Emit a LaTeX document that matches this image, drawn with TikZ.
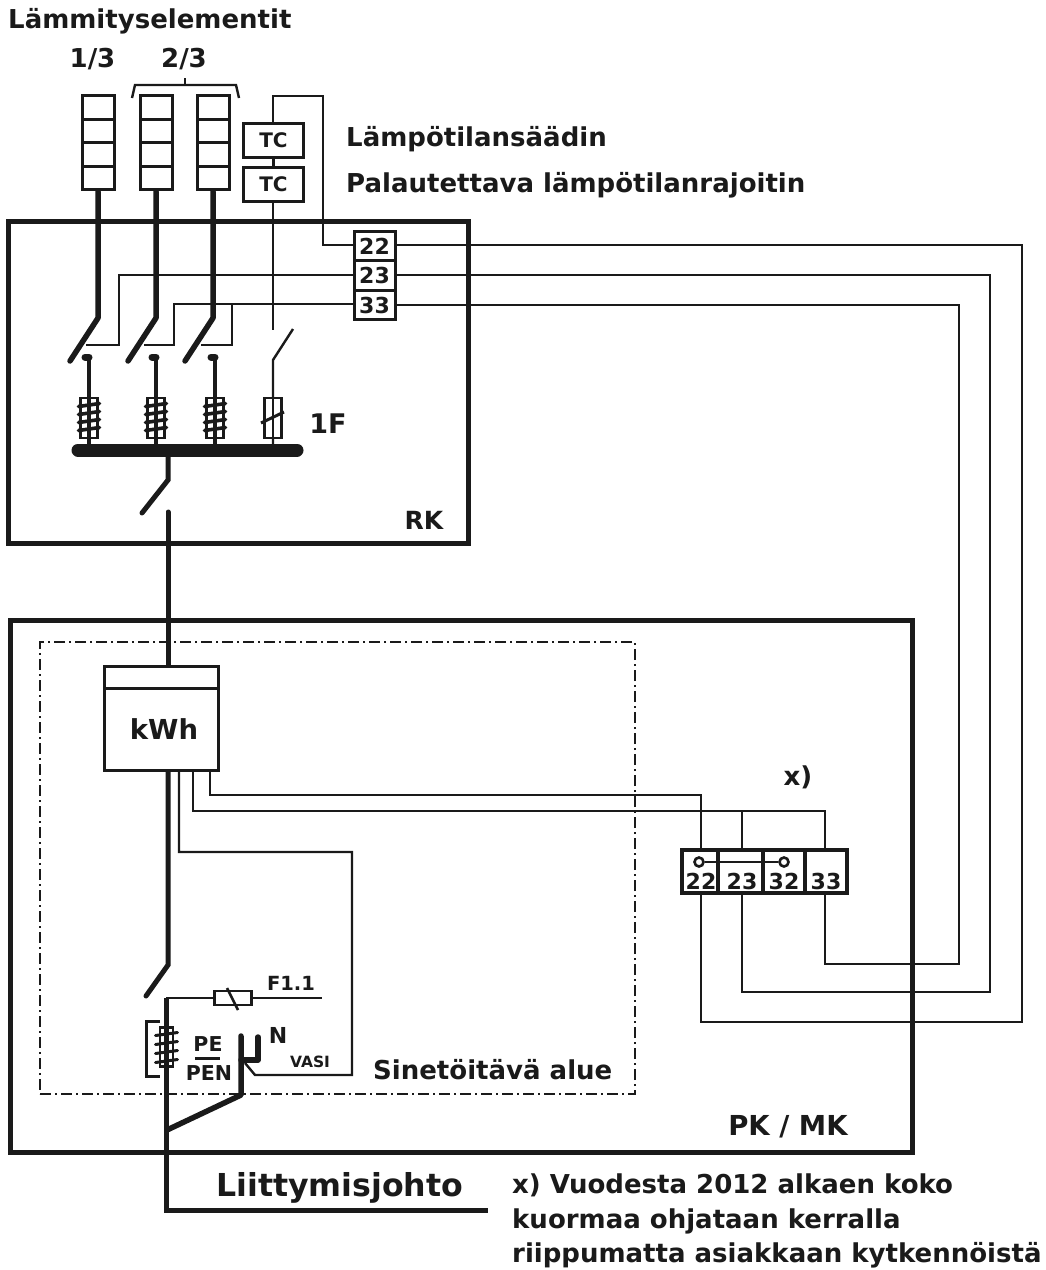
\documentclass[tikz,border=0pt]{standalone}
\usepackage{fontspec}
\setmainfont{DejaVu Sans}
\newfontfamily\lblfont{DejaVu Sans Bold}
\newcommand{\fs}[1]{\fontsize{#1}{#1}\selectfont}
\definecolor{ink}{HTML}{1A1A1A}
\tikzset{
  lbl/.style={inner sep=0pt,text=ink,font=\lblfont\fs{26}},
  lbll/.style={lbl,anchor=base west},
  wire/.style={draw=ink,line width=2.4pt,line join=miter},
  lead/.style={draw=ink,line width=5.5pt,line join=round},
  heavy/.style={draw=ink,line width=5pt,line join=miter},
  frame/.style={draw=ink,line width=5pt},
  cell/.style={draw=ink,line width=3pt,fill=white,inner sep=0pt,text=ink,font=\lblfont\fs{20}},
  elem/.style={cell,minimum width=32pt,minimum height=23.5pt,line width=3pt},
  termr/.style={cell,minimum width=41pt,minimum height=29.5pt,font=\lblfont\fs{22}},
  tc/.style={cell,minimum width=60pt,minimum height=34pt},
  fusebody/.style={draw=ink,line width=2.4pt,fill=white,minimum width=17pt,minimum height=40pt,inner sep=0pt},
  coilline/.style={draw=ink,line width=3.6pt,line cap=round},
  pkcell/.style={draw=ink,line width=3.4pt,inner sep=0pt,text=ink,font=\lblfont\fs{21}},
}
\begin{document}
\begin{tikzpicture}[x=1pt,y=-1pt]
\useasboundingbox (0,0) rectangle (1046,1270);
\fill[white] (0,0) rectangle (1046,1270);

% frames
\node[frame,inner sep=0pt,minimum width=460pt,minimum height=322pt] (rk) at (238,382) {};
\node[frame,inner sep=0pt,minimum width=902pt,minimum height=532pt] (pk) at (461,886) {};
\node[draw=ink,line width=1.4pt,dash pattern=on 11pt off 4pt on 2pt off 4pt,inner sep=0pt,minimum width=595pt,minimum height=452pt] (seal) at (337.5,868) {};

% heating elements
\foreach \n/\x in {a/98.5,b/156,c/213.5}{
  \node[elem] (\n1) at (\x,107.5) {};
  \node[elem] (\n2) at (\x,131) {};
  \node[elem] (\n3) at (\x,154.5) {};
  \node[elem] (\n4) at (\x,178) {};
}
\coordinate (abend) at (98,318);  \coordinate (atip) at (70,361);
\coordinate (bbend) at (156,318); \coordinate (btip) at (128,361);
\coordinate (cbend) at (213,318); \coordinate (ctip) at (185,361);
\draw[lead,line cap=round] (a4.south -| abend) -- (abend) -- (atip);
\draw[lead,line cap=round] (b4.south -| bbend) -- (bbend) -- (btip);
\draw[lead,line cap=round] (c4.south -| cbend) -- (cbend) -- (ctip);

% brace of 2/3
\coordinate (brl) at (132,98); \coordinate (brla) at (135,85);
\coordinate (brr) at (239,98); \coordinate (brra) at (236,85);
\coordinate (brt) at (185,85); \coordinate (brtt) at (185,78);
\draw[wire] (brl) -- (brla) -- (brra) -- (brr);
\draw[wire] (brt) -- (brtt);

% TC boxes
\node[tc] (tc1) at (273.5,140) {TC};
\node[tc] (tc2) at (273.5,184) {TC};
\draw[wire] (tc1) -- (tc2);

% terminals RK
\node[termr] (r22) at (374.5,246) {22};
\node[termr] (r23) at (374.5,275.5) {23};
\node[termr] (r33) at (374.5,305) {33};

% wire TC to 22
\coordinate (tca) at (273,96); \coordinate (tcb) at (323,96); \coordinate (tcc) at (323,245);
\draw[wire] (tc1.north -| tca) -- (tca) -- (tcb) -- (tcc) -- (r22.west |- tcc);
\coordinate (tcsw) at (273,330);
\draw[wire] (tc2.south -| tcsw) -- (tcsw);

% left control wires
\coordinate (w23a) at (119,275); \coordinate (w23b) at (119,345); \coordinate (w23c) at (86,345);
\draw[wire] (r23.west |- w23a) -- (w23a) -- (w23b) -- (w23c);
\coordinate (w33a) at (174,304); \coordinate (w33b) at (174,345); \coordinate (w33c) at (144,345);
\draw[wire] (r33.west |- w33a) -- (w33a) -- (w33b) -- (w33c);
\coordinate (w33d) at (232,304); \coordinate (w33e) at (232,345); \coordinate (w33f) at (201,345);
\draw[wire] (w33d) -- (w33e) -- (w33f);

% bus and main switch
\coordinate (busl) at (78,450); \coordinate (busr) at (297,450);
\draw[draw=ink,line width=13pt,line cap=round] (busl) -- (busr);
\coordinate (msa) at (168,450); \coordinate (msb) at (168,480); \coordinate (msc) at (142,513);
\draw[heavy,line cap=round] (msa) -- (msb) -- (msc);

% fuse stems and coils
\foreach \n/\x in {fa/89,fb/156,fc/215}{
  \coordinate (\n top) at (\x,360);
  \coordinate (\n hook) at (\x-4,357);
  \coordinate (\n bot) at (\x,450);
  \draw[draw=ink,line width=4.6pt,line cap=round] (\n top) -- (\n bot);
  \draw[draw=ink,line width=7pt,line cap=round] (\n hook) -- (\x,357);
  \node[fusebody,fill=none] (\n) at (\x,418) {};
  \foreach \y in {405,413,421,429}{
    \draw[coilline] (\x-10.5,\y+1.5) -- (\x+10.5,\y-1.5);
  }
}
% fourth switch and fuse
\coordinate (sd1) at (293,329); \coordinate (sd2) at (273,360); \coordinate (sd3) at (273,450);
\draw[wire] (sd1) -- (sd2) -- (sd3);
\node[fusebody] (fd) at (273,418) {};
\coordinate (fdl) at (261,423); \coordinate (fdr) at (284,412);
\draw[wire] (fd.south) -- (fd.north);
\draw[wire,line width=3pt] (fdl) -- (fdr);

% right long wires
\node[pkcell,minimum width=36pt,minimum height=43pt] (p22) at (700,871.5) {};
\node[pkcell,minimum width=45pt,minimum height=43pt] (p23) at (740.5,871.5) {};
\node[pkcell,minimum width=42pt,minimum height=43pt] (p32) at (784,871.5) {};
\node[pkcell,minimum width=42pt,minimum height=43pt] (p33) at (826,871.5) {};
\node[lbl,font=\lblfont\fs{22}] (n22) at (701,881) {22};
\node[lbl,font=\lblfont\fs{22}] (n23) at (742,881) {23};
\node[lbl,font=\lblfont\fs{22}] (n32) at (784,881) {32};
\node[lbl,font=\lblfont\fs{22}] (n33) at (826,881) {33};
\node[draw=ink,line width=2.6pt,circle,minimum size=9pt,inner sep=0pt] (ca) at (699,862) {};
\node[draw=ink,line width=2.6pt,circle,minimum size=9pt,inner sep=0pt] (cb) at (784,862) {};
\draw[wire] (ca) -- (cb);

\coordinate (l22a) at (1022,245); \coordinate (l22b) at (1022,1022); \coordinate (l22c) at (701,1022); \coordinate (l22d) at (701,893);
\draw[wire] (r22.east |- l22a) -- (l22a) -- (l22b) -- (l22c) -- (l22d);
\coordinate (l23a) at (990,275); \coordinate (l23b) at (990,992); \coordinate (l23c) at (742,992); \coordinate (l23d) at (742,893);
\draw[wire] (r23.east |- l23a) -- (l23a) -- (l23b) -- (l23c) -- (l23d);
\coordinate (l33a) at (959,305); \coordinate (l33b) at (959,964); \coordinate (l33c) at (825,964); \coordinate (l33d) at (825,893);
\draw[wire] (r33.east |- l33a) -- (l33a) -- (l33b) -- (l33c) -- (l33d);

% meter
\coordinate (mlead) at (168,512);
\node[cell,minimum width=114pt,minimum height=104pt] (kwh) at (161,718) {};
\coordinate (kwhl) at (104,688); \coordinate (kwhr) at (218,688);
\draw[draw=ink,line width=3pt] (kwhl) -- (kwhr);
\node[lbl,font=\lblfont\fs{27.5}] (kwhtxt) at (164,729) {kWh};
\draw[heavy,line cap=round] (mlead) -- (mlead |- kwh.north);

% meter wires
\coordinate (m1a) at (210,795); \coordinate (m1b) at (701,795);
\draw[wire] (m1a |- kwh.south) -- (m1a) -- (m1b) -- (m1b |- p22.north);
\coordinate (m2a) at (193,811); \coordinate (m2b) at (825,811); \coordinate (m2c) at (742,811);
\draw[wire] (m2a |- kwh.south) -- (m2a) -- (m2b) -- (m2b |- p33.north);
\draw[wire] (m2c) -- (m2c |- p23.north);
\coordinate (m3a) at (179,852); \coordinate (m3b) at (352,852); \coordinate (m3c) at (352,1075); \coordinate (m3d) at (255,1075); \coordinate (m3e) at (245,1063);
\draw[wire] (m3a |- kwh.south) -- (m3a) -- (m3b) -- (m3c) -- (m3d) -- (m3e);

% lower switch
\coordinate (lsa) at (168,965); \coordinate (lsb) at (146,996);
\draw[heavy,line cap=round] (lsa |- kwh.south) -- (lsa) -- (lsb);

% incoming line
\coordinate (ina) at (166,998); \coordinate (inb) at (166,1210); \coordinate (inc) at (488,1210);
\draw[heavy] (ina) -- (inb) -- (inc);

% F1.1
\coordinate (fe) at (322,998);
\draw[draw=ink,line width=2.8pt] (ina) -- (fe);
\node[draw=ink,line width=2.6pt,fill=white,inner sep=0pt,minimum width=37pt,minimum height=14pt] (f11) at (233,998) {};
\coordinate (f11a) at (227,988); \coordinate (f11b) at (238,1010);
\draw[draw=ink,line width=2.6pt] (f11a) -- (f11b);

% PE coil
\node[fusebody,minimum width=13pt,minimum height=39pt,fill=none] (pcoil) at (166.5,1047) {};
\foreach \y in {1034,1043,1052,1061}{
  \draw[coilline,line width=3pt] (155.5,\y+1.5) -- (177.5,\y-1.5);
}
\coordinate (bka) at (160,1021); \coordinate (bkb) at (146,1021); \coordinate (bkc) at (146,1076); \coordinate (bkd) at (160,1076);
\draw[draw=ink,line width=3pt] (bka) -- (bkb) -- (bkc) -- (bkd);

% N bar
\coordinate (na) at (241,1036); \coordinate (nb) at (241,1095); \coordinate (nc) at (167,1130);
\draw[lead,line cap=round] (na) -- (nb) -- (nc);
\coordinate (nd) at (241,1060); \coordinate (ne) at (258,1060); \coordinate (nf) at (258,1037);
\draw[lead,line cap=round] (nd) -- (ne) -- (nf);

% PE/PEN fraction
\coordinate (fra) at (195,1058); \coordinate (frb) at (220,1058);
\draw[draw=ink,line width=3pt] (fra) -- (frb);

% labels
\node[lbll] (t1) at (8,28) {Lämmityselementit};
\node[lbl] (t2) at (92.5,59) {1/3};
\node[lbl] (t3) at (184,59) {2/3};
\node[lbll] (t4) at (346,146) {Lämpötilansäädin};
\node[lbll] (t5) at (346,192) {Palautettava lämpötilanrajoitin};
\node[lbl,font=\lblfont\fs{27}] (t6) at (328,424) {1F};
\node[lbl,font=\lblfont\fs{25}] (t7) at (424,520) {RK};
\node[lbl] (t8) at (798,777) {x)};
\node[lbl,font=\lblfont\fs{19.5}] (t9) at (291,983) {F1.1};
\node[lbl,font=\lblfont\fs{20.5}] (t10) at (208,1044) {PE};
\node[lbl,font=\lblfont\fs{20.5}] (t11) at (209,1073) {PEN};
\node[lbl,font=\lblfont\fs{22}] (t12) at (278,1035) {N};
\node[lbl,font=\lblfont\fs{15.5}] (t13) at (310,1062) {VASI};
\node[lbll] (t14) at (373,1079) {Sinetöitävä alue};
\node[lbl,font=\lblfont\fs{27.5}] (t15) at (788,1127) {PK / MK};
\node[lbll,font=\lblfont\fs{31.6}] (t16) at (216,1196) {Liittymisjohto};
\node[lbll,font=\lblfont\fs{26}] (t17) at (512,1193) {x) Vuodesta 2012 alkaen koko};
\node[lbll,font=\lblfont\fs{26}] (t18) at (512,1228) {kuormaa ohjataan kerralla};
\node[lbll,font=\lblfont\fs{26}] (t19) at (512,1262) {riippumatta asiakkaan kytkennöistä};
\end{tikzpicture}
\end{document}
